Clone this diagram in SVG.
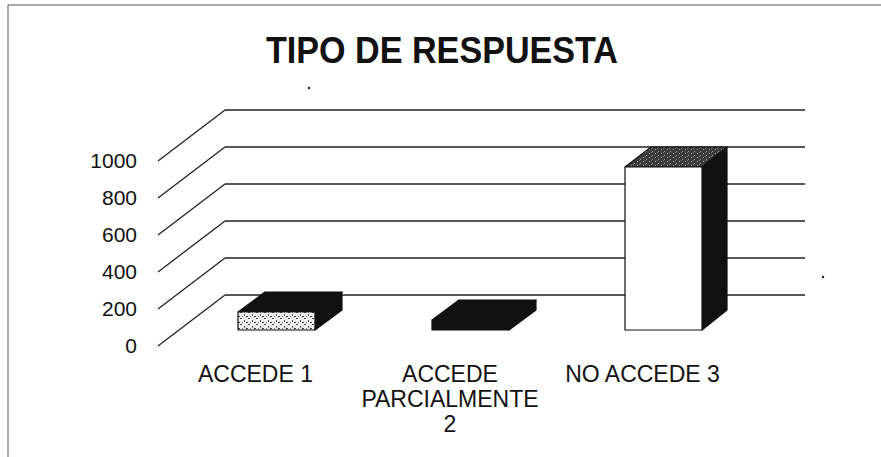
<svg xmlns="http://www.w3.org/2000/svg" width="881" height="457" viewBox="0 0 881 457">
<defs>
<pattern id="speck" width="8" height="6" patternUnits="userSpaceOnUse">
<rect width="8" height="6" fill="#ededed"/>
<rect x="0" y="0" width="2" height="1" fill="#444"/>
<rect x="4" y="2" width="1" height="2" fill="#555"/>
<rect x="6" y="4" width="2" height="1" fill="#333"/>
<rect x="2" y="4" width="1" height="1" fill="#666"/>
</pattern>
<pattern id="darkspeck" width="6" height="4" patternUnits="userSpaceOnUse">
<rect width="6" height="4" fill="#3a3a3a"/>
<rect x="1" y="1" width="1" height="1" fill="#aaa"/>
<rect x="4" y="3" width="1" height="1" fill="#999"/>
<rect x="3" y="0" width="1" height="1" fill="#777"/>
</pattern>
</defs>
<style>
.frame{fill:none;stroke:#555;stroke-width:1}
.grid{fill:none;stroke:#222;stroke-width:1.3}
.ylab{font-family:"Liberation Sans",Arial,sans-serif;font-size:21px;fill:#111;text-anchor:end}
.xlab{font-family:"Liberation Sans",Arial,sans-serif;font-size:23px;fill:#111;text-anchor:middle}
.title{font-family:"Liberation Sans",Arial,sans-serif;font-size:36px;font-weight:bold;fill:#111;text-anchor:middle}
.edge{stroke:#111;stroke-width:1.2;stroke-linejoin:round}
</style>
<rect width="881" height="457" fill="#fff"/>
<path class="frame" d="M8,457 V5 H881"/>
<text class="title" x="442" y="63" textLength="352" lengthAdjust="spacingAndGlyphs">TIPO DE RESPUESTA</text>
<g id="grid" class="grid">
<path d="M225,110 H805 M225,147 H805 M225,184 H805 M225,221 H805 M225,258 H805 M225,295 H805"/>
<path d="M158,161 L225,110 M158,198 L225,147 M158,235 L225,184 M158,272 L225,221 M158,309 L225,258 M158,346 L225,295"/>
</g>
<g id="yaxis">
<text class="ylab" x="137" y="168">1000</text>
<text class="ylab" x="137" y="205">800</text>
<text class="ylab" x="137" y="242">600</text>
<text class="ylab" x="137" y="279">400</text>
<text class="ylab" x="137" y="316">200</text>
<text class="ylab" x="137" y="353">0</text>
</g>
<g id="bar1">
<path class="edge" d="M238,312 L265,292 H342 L315,312 Z" fill="#111"/>
<path class="edge" d="M315,312 L342,292 V310 L315,330 Z" fill="#111"/>
<rect class="edge" x="238" y="312" width="77" height="18" fill="url(#speck)"/>
</g>
<g id="bar2">
<path class="edge" d="M432,320 L459,300 H536 L509,320 Z" fill="#111"/>
<path class="edge" d="M509,320 L536,300 V310 L509,330 Z" fill="#111"/>
<rect class="edge" x="432" y="320" width="77" height="10" fill="#111"/>
</g>
<g id="bar3">
<path class="edge" d="M625,167 L651,147 H727 L702,167 Z" fill="url(#darkspeck)"/>
<path class="edge" d="M702,167 L727,147 V310 L702,330 Z" fill="#111"/>
<rect class="edge" x="625" y="167" width="77" height="163" fill="#fff"/>
</g>
<g id="xaxis">
<text class="xlab" x="255.5" y="382">ACCEDE 1</text>
<text class="xlab" x="450" y="382">ACCEDE</text>
<text class="xlab" x="450" y="407">PARCIALMENTE</text>
<text class="xlab" x="450" y="432">2</text>
<text class="xlab" x="642.5" y="382">NO ACCEDE 3</text>
</g>
<circle cx="309" cy="88" r="1.2" fill="#222"/>
<circle cx="823" cy="277" r="1.2" fill="#222"/>
</svg>
